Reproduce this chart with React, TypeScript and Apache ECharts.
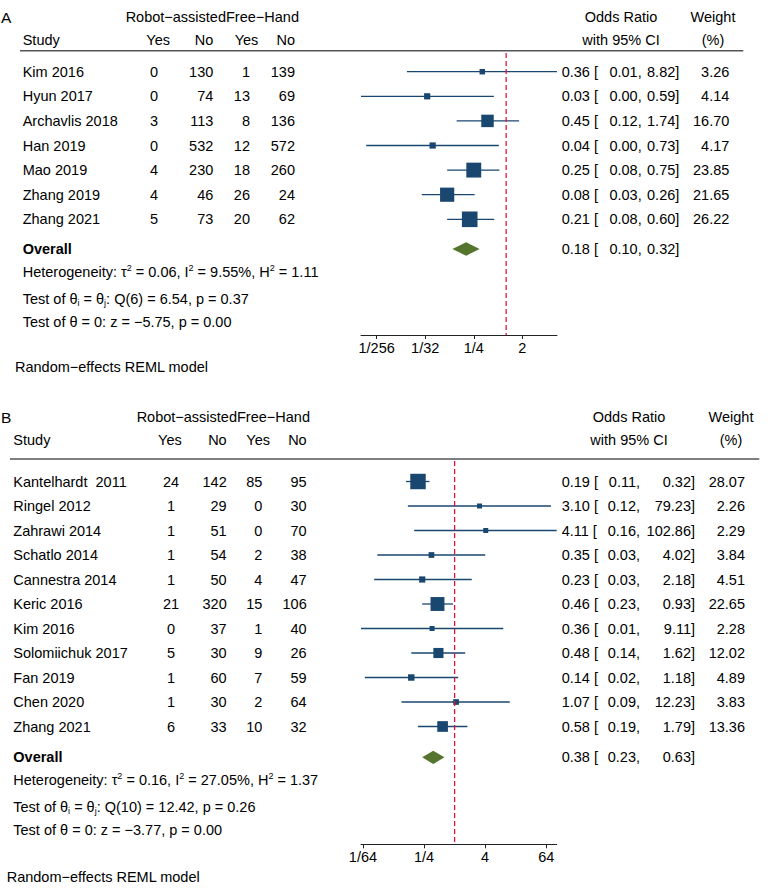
import React, { useEffect, useRef } from 'react';
import * as echarts from 'echarts';

// ---------- Panel A data ----------
const studiesA = ['Kim 2016', 'Hyun 2017', 'Archavlis 2018', 'Han 2019', 'Mao 2019', 'Zhang 2019', 'Zhang 2021'];
const robotYesA = [0, 0, 3, 0, 4, 4, 5];
const robotNoA = [130, 74, 113, 532, 230, 46, 73];
const freeYesA = [1, 13, 8, 12, 18, 26, 20];
const freeNoA = [139, 69, 136, 572, 260, 24, 62];
const orA = [0.36, 0.034, 0.45, 0.043, 0.25, 0.08, 0.21];
const loA = [0.0143, 0.002, 0.12, 0.0025, 0.08, 0.027, 0.08];
const hiA = [8.82, 0.59, 1.74, 0.73, 0.75, 0.26, 0.6];
const weightA = [3.26, 4.14, 16.7, 4.17, 23.85, 21.65, 26.22];
const overallA = [0.18, 0.1, 0.32]; // OR, lower, upper
const statsA = { tau2: '0.06', i2: '9.55', h2: '1.11', df: 6, q: '6.54', pq: '0.37', z: '−5.75', pz: '0.00' };
const tickLabelsA = ['1/256', '1/32', '1/4', '2'];

// ---------- Panel B data ----------
const studiesB = ['Kantelhardt  2011', 'Ringel 2012', 'Zahrawi 2014', 'Schatlo 2014', 'Cannestra 2014', 'Keric 2016', 'Kim 2016', 'Solomiichuk 2017', 'Fan 2019', 'Chen 2020', 'Zhang 2021'];
const robotYesB = [24, 1, 1, 1, 1, 21, 0, 5, 1, 1, 6];
const robotNoB = [142, 29, 51, 54, 50, 320, 37, 30, 60, 30, 33];
const freeYesB = [85, 0, 0, 2, 4, 15, 1, 9, 7, 2, 10];
const freeNoB = [95, 30, 70, 38, 47, 106, 40, 26, 59, 64, 32];
const orB = [0.19, 3.1, 4.11, 0.35, 0.23, 0.46, 0.36, 0.48, 0.14, 1.07, 0.58];
const loB = [0.11, 0.12, 0.16, 0.03, 0.026, 0.23, 0.0143, 0.14, 0.017, 0.09, 0.19];
const hiB = [0.32, 79.23, 102.86, 4.02, 2.18, 0.93, 9.11, 1.62, 1.18, 12.23, 1.79];
const weightB = [28.07, 2.26, 2.29, 3.84, 4.51, 22.65, 2.28, 12.02, 4.89, 3.83, 13.36];
const overallB = [0.38, 0.23, 0.63];
const statsB = { tau2: '0.16', i2: '27.05', h2: '1.37', df: 10, q: '12.42', pq: '0.26', z: '−3.77', pz: '0.00' };
const tickLabelsB = ['1/64', '1/4', '4', '64'];

const NULL_OR = 1;

// ---------- styles ----------
const FONT = '"Liberation Sans", Arial, Helvetica, sans-serif';
const FS = 14.5;
const NAVY = '#1a476f';
const GREEN = '#55752f';
const RED = '#dc143c';
const RULE = '#555555';

const log2 = (v: number) => Math.log(v) / Math.LN2;
const parseTick = (s: string) => (s.startsWith('1/') ? -log2(Number(s.slice(2))) : log2(Number(s)));
const fmtTick = (v: number) => {
  const r = Math.round(v);
  return r >= 0 ? String(Math.pow(2, r)) : '1/' + Math.pow(2, -r);
};

const txt = (x: number, y: number, text: string, align = 'left', extra: any = {}) => ({
  type: 'text',
  x,
  y,
  silent: true,
  z: 10,
  style: {
    text,
    fontFamily: FONT,
    fontSize: FS,
    fill: '#000',
    align,
    textAlign: align,
    verticalAlign: 'middle',
    textVerticalAlign: 'middle',
    ...extra,
  },
});

const richDef = {
  sup: { fontSize: 9, fontFamily: FONT, verticalAlign: 'top', lineHeight: 10, fill: '#000' },
  sub: { fontSize: 9, fontFamily: FONT, verticalAlign: 'bottom', lineHeight: 10, fill: '#000' },
};

const layoutA = {
  letter: 'A', letterX: 1, top: 53, row0: 71.7, pitch: 24.6, axisY: 335, gridLeft: 361, gridRight: 557,
  overallGap: 0.21, h1: 17, h2: 40, ruleY: 50.7, ruleX1: 20, ruleX2: 743.3, nameX: 22.7,
  c1x: 154, c1align: 'center', c2x: 213.3, c3x: 250, c4x: 295,
  hYes1: 170, hNo1: 213.3, hYes2: 258.3, hNo2: 295, split: 226,
  ciLeft: 561.7, loRight: 641.7, hiRight: 679.3, wRight: 729.3, orCenter: 621, wCenter: 713,
  noteX: 15, noteY: 366.7, sizeK: 3.05,
};
const layoutB = {
  letter: 'B', letterX: 1, top: 461, row0: 481.5, pitch: 24.5, axisY: 844.3, gridLeft: 361, gridRight: 556.7,
  overallGap: 0.26, h1: 417, h2: 440, ruleY: 459, ruleX1: 10, ruleX2: 759.3, nameX: 13.3,
  c1x: 171, c1align: 'center', c2x: 226.7, c3x: 262.3, c4x: 306.7,
  hYes1: 181.7, hNo1: 226.7, hYes2: 270, hNo2: 306.7, split: 237,
  ciLeft: 561.7, loRight: 640, hiRight: 695, wRight: 745, orCenter: 629, wCenter: 731,
  noteX: 6.7, noteY: 876.7, sizeK: 2.92,
};

function buildPanel(d: any, L: any, g: number) {
  const n = d.studies.length;
  const yMin = -(L.row0 - L.top) / L.pitch;
  const yMax = (L.axisY - L.row0) / L.pitch;
  const overallIdx = n + L.overallGap;
  const rowY = (i: number) => L.row0 + i * L.pitch;
  const overallY = rowY(overallIdx);
  const ticks = d.ticks.map(parseTick);
  const xMin = log2(Math.min(...d.lo));
  const xMax = log2(Math.max(...d.hi));

  const grid = { left: L.gridLeft, top: L.top, width: L.gridRight - L.gridLeft, height: L.axisY - L.top };
  const xAxis = {
    gridIndex: g,
    type: 'value',
    min: xMin,
    max: xMax,
    position: 'bottom',
    axisLine: { show: true, onZero: false, lineStyle: { color: '#222', width: 1 } },
    axisTick: { show: true, customValues: ticks, length: 4, lineStyle: { color: '#222', width: 1 } },
    axisLabel: { show: true, customValues: ticks, formatter: fmtTick, color: '#000', fontFamily: FONT, fontSize: FS, margin: 5 },
    splitLine: { show: false },
  };
  const yAxis = { gridIndex: g, type: 'value', inverse: true, min: yMin, max: yMax, show: false };

  const studyData = d.studies.map((_: string, i: number) => [log2(d.lo[i]), log2(d.hi[i]), log2(d.or[i]), i, d.w[i]]);
  const overallData = [[log2(d.overall[1]), log2(d.overall[2]), log2(d.overall[0]), overallIdx]];

  const series = [
    {
      type: 'custom',
      xAxisIndex: g,
      yAxisIndex: g,
      silent: true,
      z: 2,
      encode: { x: [0, 1, 2], y: 3 },
      data: studyData,
      renderItem: (_p: any, api: any) => {
        const a = api.coord([api.value(0), api.value(3)]);
        const b = api.coord([api.value(1), api.value(3)]);
        const c = api.coord([api.value(2), api.value(3)]);
        const s = Math.max(5, L.sizeK * Math.sqrt(api.value(4)));
        return {
          type: 'group',
          children: [
            { type: 'line', shape: { x1: a[0], y1: a[1], x2: b[0], y2: b[1] }, style: { stroke: NAVY, lineWidth: 1.3 } },
            { type: 'rect', shape: { x: c[0] - s / 2, y: c[1] - s / 2, width: s, height: s }, style: { fill: NAVY } },
          ],
        };
      },
    },
    {
      type: 'custom',
      xAxisIndex: g,
      yAxisIndex: g,
      silent: true,
      z: 2,
      encode: { x: [0, 1, 2], y: 3 },
      data: overallData,
      renderItem: (_p: any, api: any) => {
        const a = api.coord([api.value(0), api.value(3)]);
        const b = api.coord([api.value(1), api.value(3)]);
        const c = api.coord([api.value(2), api.value(3)]);
        const h = 6.7;
        return {
          type: 'polygon',
          shape: { points: [[a[0], a[1]], [c[0], c[1] - h], [b[0], b[1]], [c[0], c[1] + h]] },
          style: { fill: GREEN },
        };
      },
    },
    {
      type: 'line',
      xAxisIndex: g,
      yAxisIndex: g,
      silent: true,
      z: 5,
      symbol: 'none',
      data: [[log2(NULL_OR), yMin], [log2(NULL_OR), yMax]],
      lineStyle: { color: RED, width: 1.3, type: [5, 3] },
    },
  ];

  const els: any[] = [];
  els.push(txt(L.letterX, L.h1, L.letter, 'left', { fontSize: 15.5 }));
  els.push(txt(L.split, L.h1, 'Robot−assisted', 'right'));
  els.push(txt(L.split, L.h1, 'Free−Hand', 'left'));
  els.push(txt(L.orCenter, L.h1, 'Odds Ratio', 'center'));
  els.push(txt(L.wCenter, L.h1, 'Weight', 'center'));
  els.push(txt(L.nameX, L.h2, 'Study'));
  els.push(txt(L.hYes1, L.h2, 'Yes', 'right'));
  els.push(txt(L.hNo1, L.h2, 'No', 'right'));
  els.push(txt(L.hYes2, L.h2, 'Yes', 'right'));
  els.push(txt(L.hNo2, L.h2, 'No', 'right'));
  els.push(txt(L.orCenter, L.h2, 'with 95% CI', 'center'));
  els.push(txt(L.wCenter, L.h2, '(%)', 'center'));
  els.push({
    type: 'line',
    silent: true,
    z: 10,
    shape: { x1: L.ruleX1, y1: L.ruleY, x2: L.ruleX2, y2: L.ruleY },
    style: { stroke: RULE, lineWidth: 1.6 },
  });

  d.studies.forEach((s: string, i: number) => {
    const y = rowY(i);
    els.push(txt(L.nameX, y, s));
    els.push(txt(L.c1x, y, String(d.rYes[i]), L.c1align));
    els.push(txt(L.c2x, y, String(d.rNo[i]), 'right'));
    els.push(txt(L.c3x, y, String(d.fYes[i]), 'right'));
    els.push(txt(L.c4x, y, String(d.fNo[i]), 'right'));
    els.push(txt(L.ciLeft, y, `${d.or[i].toFixed(2)} [`));
    els.push(txt(L.loRight, y, `${d.lo[i].toFixed(2)},`, 'right'));
    els.push(txt(L.hiRight, y, `${d.hi[i].toFixed(2)}]`, 'right'));
    els.push(txt(L.wRight, y, d.w[i].toFixed(2), 'right'));
  });

  els.push(txt(L.nameX, overallY, 'Overall', 'left', { fontWeight: 'bold' }));
  els.push(txt(L.ciLeft, overallY, `${d.overall[0].toFixed(2)} [`));
  els.push(txt(L.loRight, overallY, `${d.overall[1].toFixed(2)},`, 'right'));
  els.push(txt(L.hiRight, overallY, `${d.overall[2].toFixed(2)}]`, 'right'));

  const st = d.stats;
  els.push(
    txt(L.nameX, overallY + 23, `Heterogeneity: τ{sup|2} = ${st.tau2}, I{sup|2} = ${st.i2}%, H{sup|2} = ${st.h2}`, 'left', {
      rich: richDef,
      lineHeight: 17,
    })
  );
  els.push(
    txt(L.nameX, overallY + 50, `Test of θ{sub|i} = θ{sub|j}: Q(${st.df}) = ${st.q}, p = ${st.pq}`, 'left', {
      rich: richDef,
      lineHeight: 17,
    })
  );
  els.push(txt(L.nameX, overallY + 73, `Test of θ = 0: z = ${st.z}, p = ${st.pz}`));
  els.push(txt(L.noteX, L.noteY, 'Random−effects REML model'));

  return { grid, xAxis, yAxis, series, els };
}

export default function App() {
  const ref = useRef<HTMLDivElement>(null);

  useEffect(() => {
    if (!ref.current) return;
    const chart = echarts.init(ref.current, undefined, { renderer: 'svg' });

    const pA = buildPanel(
      {
        studies: studiesA, rYes: robotYesA, rNo: robotNoA, fYes: freeYesA, fNo: freeNoA,
        or: orA, lo: loA, hi: hiA, w: weightA, overall: overallA, stats: statsA, ticks: tickLabelsA,
      },
      layoutA,
      0
    );
    const pB = buildPanel(
      {
        studies: studiesB, rYes: robotYesB, rNo: robotNoB, fYes: freeYesB, fNo: freeNoB,
        or: orB, lo: loB, hi: hiB, w: weightB, overall: overallB, stats: statsB, ticks: tickLabelsB,
      },
      layoutB,
      1
    );

    chart.setOption({
      animation: false,
      backgroundColor: '#ffffff',
      grid: [pA.grid, pB.grid],
      xAxis: [pA.xAxis, pB.xAxis],
      yAxis: [pA.yAxis, pB.yAxis],
      series: [...pA.series, ...pB.series],
      graphic: [...pA.els, ...pB.els],
    });

    return () => {
      chart.dispose();
    };
  }, []);

  return <div ref={ref} style={{ position: 'absolute', left: 0, top: 0, width: 770, height: 896 }} />;
}
